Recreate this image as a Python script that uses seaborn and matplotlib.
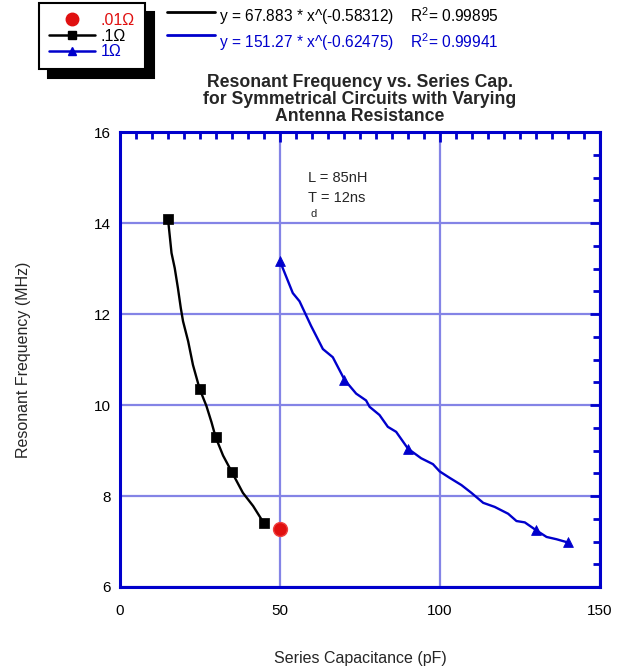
import matplotlib
matplotlib.use("Agg")
import matplotlib.pyplot as plt
import seaborn as sns
import pandas as pd
from matplotlib.lines import Line2D

# ---- data ----
# measured points
res01_x = [50]
res01_y = [7.28]
res1_x = [15, 25, 30, 35, 45]
res1_y = [14.08, 10.35, 9.29, 8.52, 7.41]
res10_x = [50, 70, 90, 130, 140]
res10_y = [13.16, 10.55, 9.04, 7.25, 6.98]
# fitted curves
fit1_x = [15.0, 15.5, 16.1, 17.1, 18.1, 19.0, 19.7, 21.3, 22.8, 24.9, 27.0, 28.6, 29.9, 32.2, 35.0, 38.4, 41.6, 44.9]
fit1_y = [14.09, 13.75, 13.34, 13.01, 12.57, 12.13, 11.84, 11.40, 10.88, 10.35, 9.98, 9.62, 9.29, 8.89, 8.52, 8.07, 7.78, 7.41]
fit10_x = [50.0, 54.0, 56.1, 59.7, 63.4, 66.5, 70.2, 73.8, 76.9, 78.0, 81.1, 83.7, 86.3, 90.0, 94.1, 97.8, 99.9,
           103.0, 106.7, 109.8, 113.5, 117.1, 121.3, 123.9, 126.5, 130.0, 133.3, 136.4, 139.9]
fit10_y = [13.16, 12.46, 12.28, 11.74, 11.23, 11.05, 10.55, 10.25, 10.10, 9.96, 9.78, 9.52, 9.41, 9.04, 8.83, 8.70, 8.54,
           8.40, 8.24, 8.07, 7.85, 7.76, 7.61, 7.45, 7.42, 7.25, 7.10, 7.05, 6.98]
legend_labels = [".01Ω", ".1Ω", "1Ω"]
eq_labels = [r"y = 67.883 * x^(-0.58312)    R$^{\mathrm{2}}$= 0.99895",
             r"y = 151.27 * x^(-0.62475)    R$^{\mathrm{2}}$= 0.99941"]
title = "Resonant Frequency vs. Series Cap.\nfor Symmetrical Circuits with Varying\nAntenna Resistance"

sns.set_style("white")
plt.rcParams['font.family'] = ['Liberation Sans', 'DejaVu Sans']
plt.rcParams['mathtext.fontset'] = 'custom'
plt.rcParams['mathtext.rm'] = 'Liberation Sans'
plt.rcParams['mathtext.it'] = 'Liberation Sans'

BLUE = '#0000CC'
GRID = '#8484E6'
RED = '#E01010'
W, H = 620, 670

fig = plt.figure(figsize=(6.2, 6.7), dpi=100)
ax = fig.add_axes([120/W, 1-587/H, (600-120)/W, (587-132)/H])

f1 = pd.DataFrame({'x': fit1_x, 'y': fit1_y})
f10 = pd.DataFrame({'x': fit10_x, 'y': fit10_y})
sns.lineplot(data=f1, x='x', y='y', ax=ax, color='black', lw=1.7, sort=False, estimator=None, zorder=3)
sns.lineplot(data=f10, x='x', y='y', ax=ax, color=BLUE, lw=1.7, sort=False, estimator=None, zorder=3)
sns.scatterplot(x=res1_x, y=res1_y, ax=ax, marker='s', s=42, color='black', edgecolor='black', zorder=4)
sns.scatterplot(x=res10_x, y=res10_y, ax=ax, marker='^', s=50, color=BLUE, edgecolor=BLUE, zorder=4)
sns.scatterplot(x=res01_x, y=res01_y, ax=ax, marker='o', s=100, color=RED, edgecolor='#F04040', linewidth=1, zorder=4)

ax.set_xlim(0, 150)
ax.set_ylim(6, 16)
ax.set_xticks([0, 50, 100, 150])
ax.set_yticks([6, 8, 10, 12, 14, 16])
ax.set_xticks(range(0, 151, 5), minor=True)
ax.set_yticks([6 + 0.5*i for i in range(21)], minor=True)
ax.grid(True, which='major', color=GRID, lw=1.6)
ax.set_axisbelow(True)
for s in ax.spines.values():
    s.set_color(BLUE)
    s.set_linewidth(2.2)
ax.tick_params(which='both', direction='in', colors=BLUE, top=True, right=True, labelcolor='black', labelsize=11)
ax.tick_params(which='major', length=7, width=2)
ax.tick_params(which='minor', length=5, width=2)
ax.tick_params(axis='x', which='major', pad=12)
ax.tick_params(axis='y', which='major', pad=6.5)
ax.set_xlabel("Series Capacitance (pF)", fontsize=11.5)
ax.set_ylabel("Resonant Frequency (MHz)", fontsize=11.5)
ax.xaxis.set_label_coords(0.5, (587-651)/455)
ax.yaxis.set_label_coords((31-120)/480, 0.5)
ax.set_title(title, fontsize=12.7, fontweight='bold', pad=8, linespacing=1.0)

ax.text(58.7, 15.0, "L = 85nH", fontsize=10.5, va='center')
ax.text(58.7, 14.55, "T = 12ns", fontsize=10.5, va='center')
ax.text(59.4, 14.2, "d", fontsize=8, va='center')

# legend
handles = [Line2D([], [], color=RED, marker='o', ls='none', markersize=9),
           Line2D([], [], color='black', marker='s', lw=1.8, markersize=6),
           Line2D([], [], color=BLUE, marker='^', lw=1.8, markersize=6)]
leg = fig.legend(handles, legend_labels, loc='upper left', bbox_to_anchor=(39/W, 1-3/H),
                 bbox_transform=fig.transFigure, frameon=True, fancybox=False, edgecolor='black',
                 fontsize=11.5, handlelength=2.9, handletextpad=0.35, labelspacing=0.05, borderpad=0.62,
                 borderaxespad=0, labelcolor=[RED, 'black', BLUE],
                 shadow={'facecolor': 'black', 'edgecolor': 'black', 'alpha': 1, 'ox': 6.5, 'oy': -6.5})
leg.get_frame().set_linewidth(1.5)

# equations
fig.add_artist(Line2D([167/W, 215/W], [1-12/H, 1-12/H], color='black', lw=2))
fig.add_artist(Line2D([167/W, 215/W], [1-35/H, 1-35/H], color=BLUE, lw=2))
fig.text(219/W, 1-16/H, eq_labels[0], fontsize=11.2, color='black', va='center')
fig.text(219/W, 1-42/H, eq_labels[1], fontsize=11.2, color=BLUE, va='center')

fig.savefig('out.png', dpi=100)
